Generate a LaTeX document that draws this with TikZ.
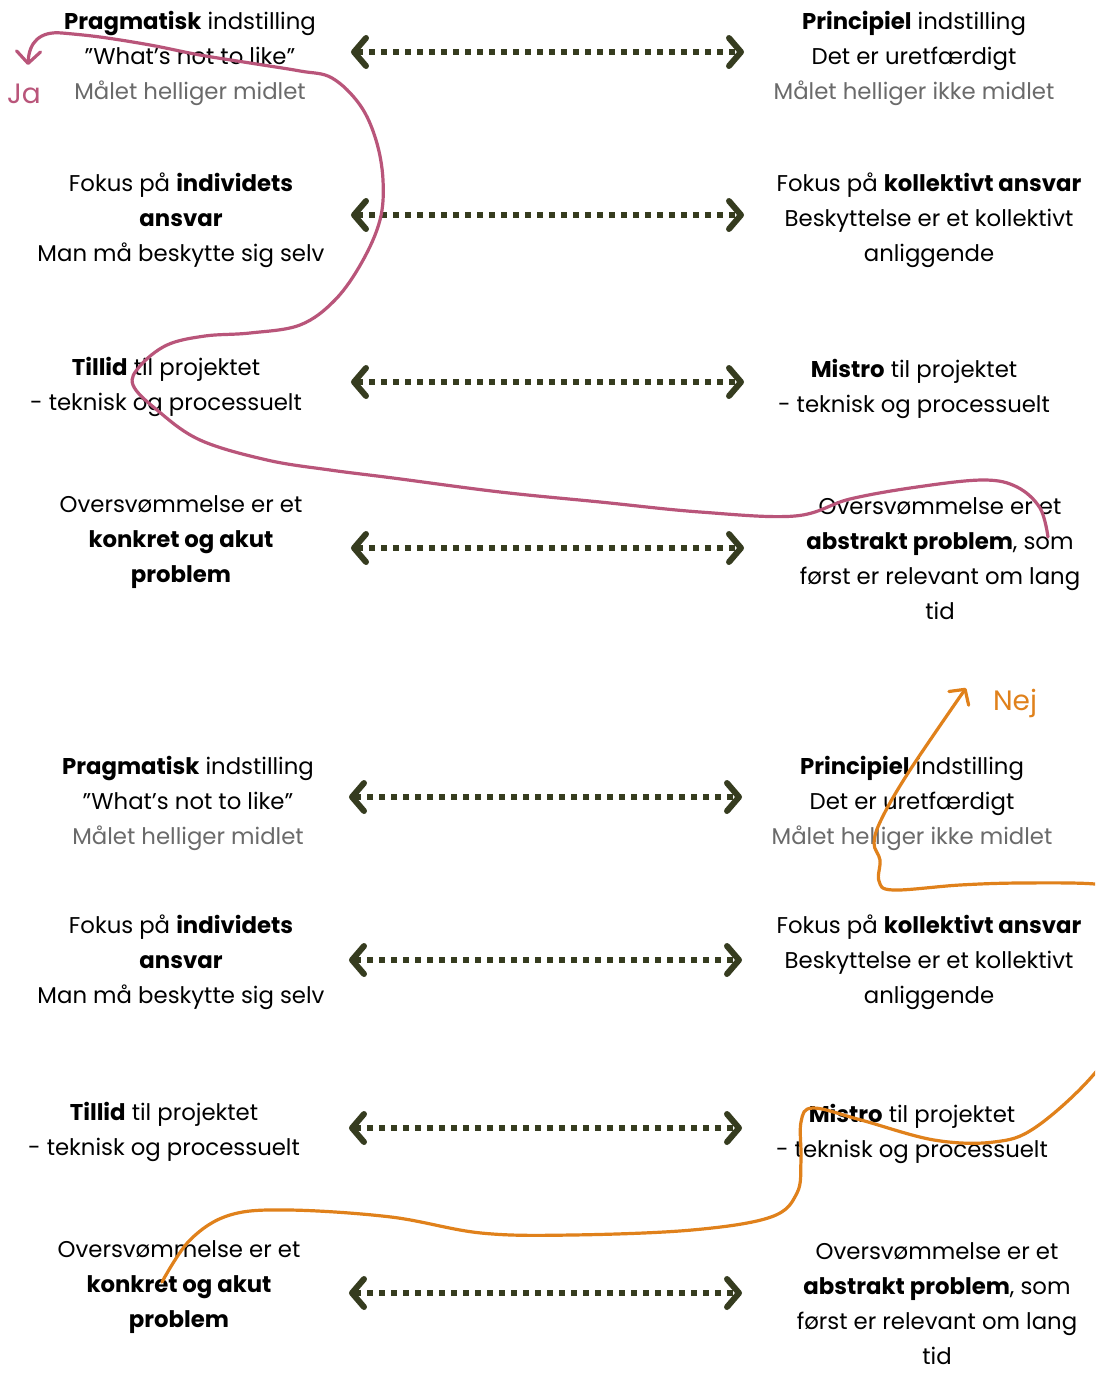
\documentclass[tikz,border=0pt]{standalone}
\usepackage{fontspec}
\setmainfont{Poppins}
\usetikzlibrary{arrows.meta}
\definecolor{arrc}{HTML}{363C1F}
\definecolor{pinkc}{HTML}{B9557A}
\definecolor{orangec}{HTML}{E0811B}
\definecolor{grayt}{HTML}{6A6A6A}
\newcommand{\gr}[1]{{\color{grayt}#1}}
\begin{document}
\begin{tikzpicture}[x=1pt,y=-1pt,
  txt/.style={align=center,inner sep=0pt,font=\fontsize{22.8}{35}\selectfont},
  dblarrow/.style={draw=arrc,line width=5.5pt,dash pattern=on 6pt off 6pt,
    {Straight Barb[length=12pt,width=28pt,line width=6pt,round]}-{Straight Barb[length=12pt,width=28pt,line width=6pt,round]}},
  curve/.style={line width=3.2pt,line cap=round},
  lbl/.style={inner sep=0pt,font=\fontsize{28}{28}\selectfont}]
\useasboundingbox (0,0) rectangle (1095,1373);
\fill[white] (0,0) rectangle (1095,1373);

% ---------- top block ----------
\node[txt] (l1) at (190,58) {\textbf{Pragmatisk} indstilling\\”What’s not to like”\\\gr{Målet helliger midlet}};
\node[txt] (r1) at (914,58) {\textbf{Principiel} indstilling\\Det er uretfærdigt\\\gr{Målet helliger ikke midlet}};
\node[txt] (l2) at (181,220) {Fokus på \textbf{individets}\\\textbf{ansvar}\\Man må beskytte sig selv};
\node[txt] (r2) at (929,220) {Fokus på \textbf{kollektivt ansvar}\\Beskyttelse er et kollektivt\\anliggende};
\node[txt] (l3) at (166,387) {\textbf{Tillid} til projektet\\- teknisk og processuelt};
\node[txt] (r3) at (914,389) {\textbf{Mistro} til projektet\\- teknisk og processuelt};
\node[txt] (l4) at (181,542) {Oversvømmelse er et\\\textbf{konkret og akut}\\\textbf{problem}};
\node[txt] (r4) at (940,559) {Oversvømmelse er et\\\textbf{abstrakt problem}, som\\først er relevant om lang\\tid};

% ---------- bottom block ----------
\node[txt] (l5) at (188,803) {\textbf{Pragmatisk} indstilling\\”What’s not to like”\\\gr{Målet helliger midlet}};
\node[txt] (r5) at (912,803) {\textbf{Principiel} indstilling\\Det er uretfærdigt\\\gr{Målet helliger ikke midlet}};
\node[txt] (l6) at (181,962) {Fokus på \textbf{individets}\\\textbf{ansvar}\\Man må beskytte sig selv};
\node[txt] (r6) at (929,962) {Fokus på \textbf{kollektivt ansvar}\\Beskyttelse er et kollektivt\\anliggende};
\node[txt] (l7) at (164,1132) {\textbf{Tillid} til projektet\\- teknisk og processuelt};
\node[txt] (r7) at (912,1134) {\textbf{Mistro} til projektet\\- teknisk og processuelt};
\node[txt] (l8) at (179,1287) {Oversvømmelse er et\\\textbf{konkret og akut}\\\textbf{problem}};
\node[txt] (r8) at (937,1304) {Oversvømmelse er et\\\textbf{abstrakt problem}, som\\først er relevant om lang\\tid};

% ---------- arrows ----------
\foreach \i/\y in {1/52,2/215,3/382,4/548}{
  \coordinate (al\i) at (351,\y);
  \coordinate (ar\i) at (744,\y);
  \draw[dblarrow] (al\i) -- (ar\i);
}
\foreach \i/\y in {5/797,6/960,7/1128,8/1293}{
  \coordinate (al\i) at (349,\y);
  \coordinate (ar\i) at (742,\y);
  \draw[dblarrow] (al\i) -- (ar\i);
}

% ---------- labels ----------
\node[lbl,text=pinkc] (ja) at (24,94) {Ja};
\node[lbl,text=orangec] (nej) at (1015,703) {Nej};

% ---------- pink curve ----------
\coordinate (pinkend) at (28,65);
\draw[curve,draw=pinkc,-{Straight Barb[length=12pt,width=24pt,line width=3.2pt,round]}]
  plot[smooth,tension=0.6] coordinates {
  (1048,537) (1040,508) (1017,487) (983,480) (917,487) (850,499) (795,516)
  (700,512) (600,502) (500,492) (393,478) (330,470) (267,460) (200,440)
  (157,410) (133,385) (140,366) (167,345) (205,336) (250,333) (300,325)
  (335,300) (362,262) (380,220) (383,180) (376,140) (360,105) (332,78)
  (300,71) (250,63) (200,55) (150,45) (100,37) (62,33)}
  .. controls (40,31) and (29,42) .. (pinkend);

% ---------- orange curve ----------
\begin{scope}
\clip (0,0) rectangle (1095,1373);
\draw[curve,draw=orangec,-{Straight Barb[length=11pt,width=24pt,line width=3.2pt,round]}]
  plot[smooth,tension=0.6] coordinates {
  (162,1282) (190,1240) (230,1215) (289,1210) (391,1217) (481,1233)
  (572,1235) (692,1230) (771,1217) (797,1193) (801,1160) (801,1122)
  (813,1108) (861,1120) (934,1140) (994,1142) (1036,1127) (1095,1073)
  (1135,1010) (1150,935) (1125,892) (1095,884) (1020,883) (960,885)
  (893,890) (879,881) (880,860) (874,843) (882,818) (910,770) (966,688)};
\end{scope}
\end{tikzpicture}
\end{document}
